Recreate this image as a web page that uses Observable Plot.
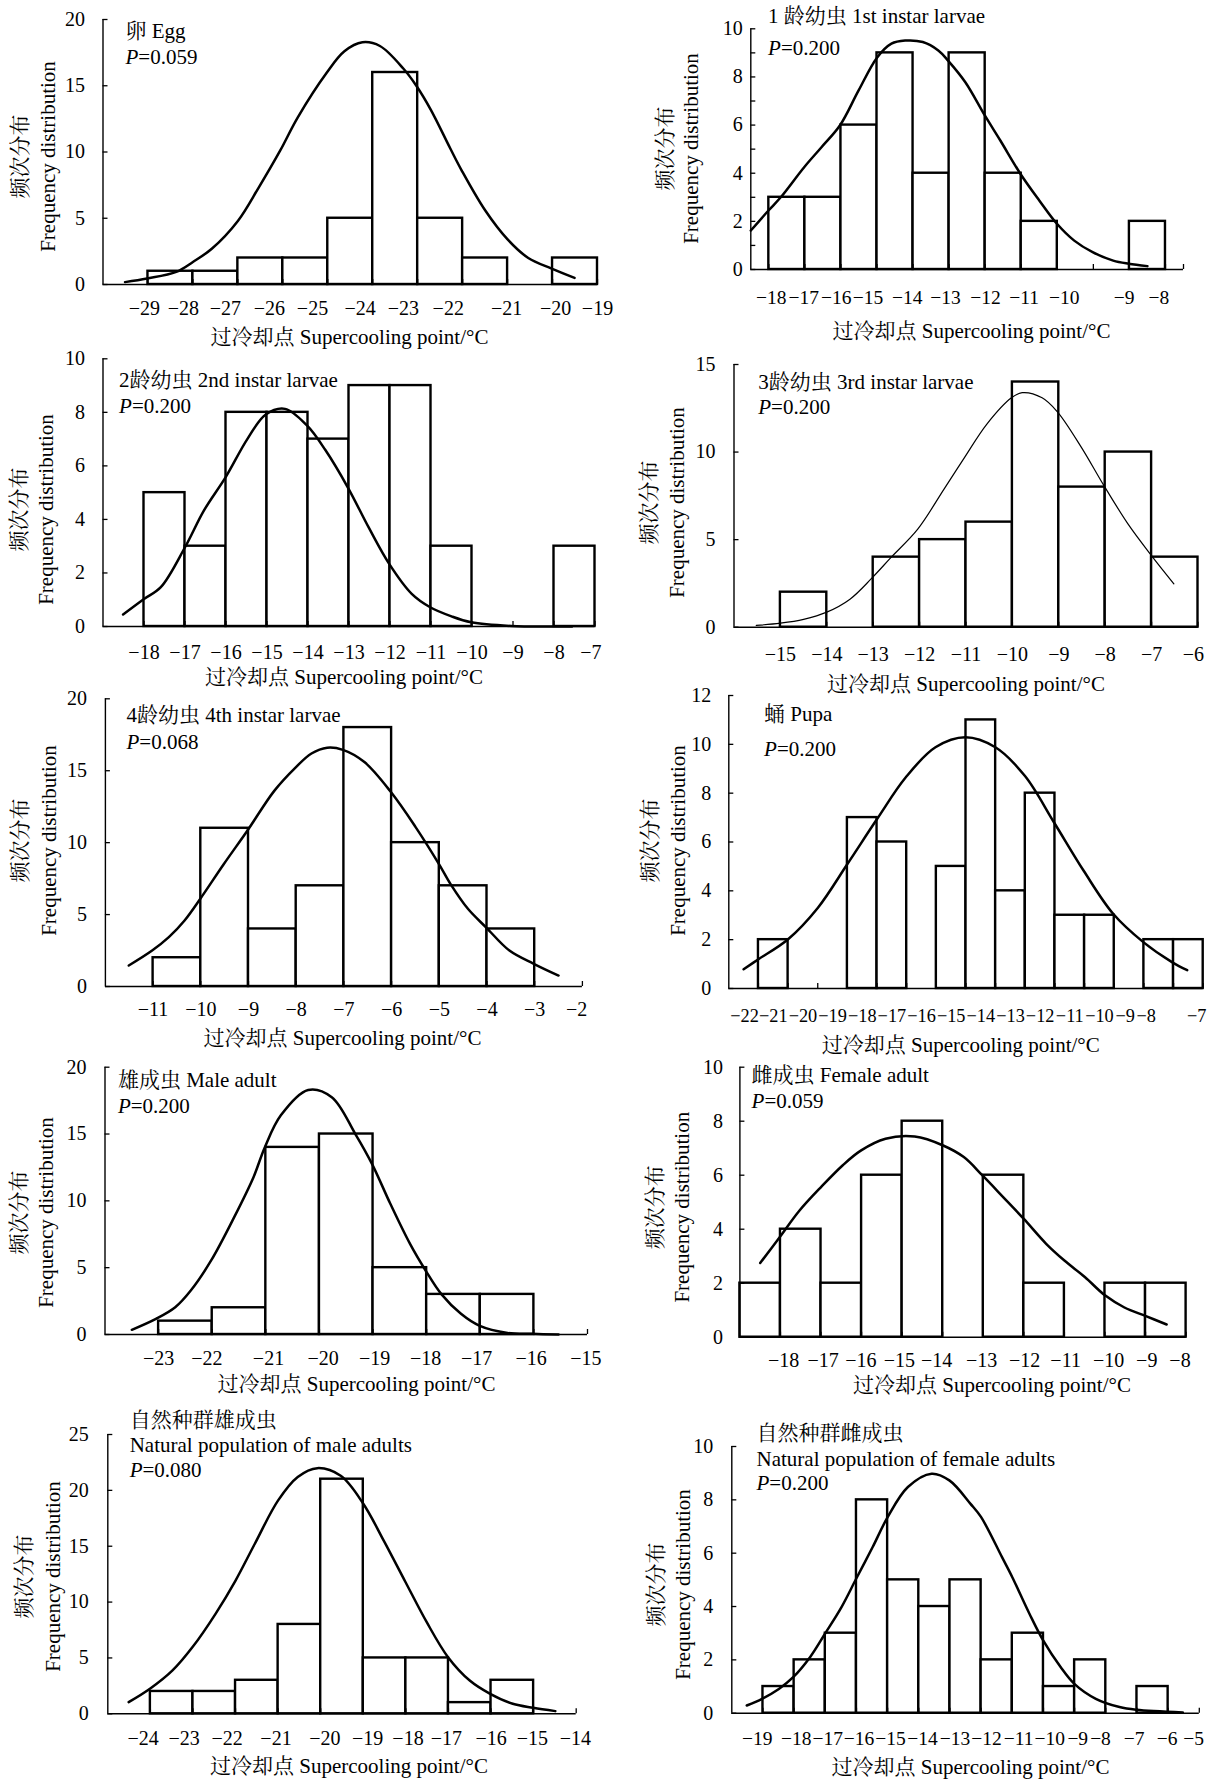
<!DOCTYPE html>
<html><head><meta charset="utf-8">
<script src="https://cdn.jsdelivr.net/npm/d3@7"></script>
<script src="https://cdn.jsdelivr.net/npm/@observablehq/plot@0.6"></script>
<style>
body{margin:0;background:#fff;color:#000;}
#root{position:relative;width:1222px;height:1779px;background:#fff;overflow:hidden;}
.cell{position:absolute;}
</style></head><body><div id="root"></div>
<script>
// ---------- DATA ----------
// 1 Egg
const eggBinStart = [-29,-28,-27,-26,-25,-24,-23,-22,-20];
const eggCount = [1,1,2,2,5,16,5,2,2];
const eggCurveX = [-29.51,-29.02,-28.37,-28.0,-27.58,-27.0,-26.54,-26.06,-25.67,-25.02,-24.63,-24.23,-23.84,-23.32,-23.03,-22.71,-22.28,-22.02,-21.5,-21.0,-20.54,-20.02,-19.51];
const eggCurveY = [0.18,0.45,0.95,1.7,2.7,4.8,7.3,10.1,12.6,16.0,17.6,18.28,18.0,16.3,15.0,13.2,10.3,8.6,5.6,3.4,2.0,1.2,0.5];
const eggXDomain = [-30,-19];
const eggYMax = 20;
const eggYTicks = [0,5,10,15,20];
const eggYMarks = [0,5,10,15,20];
const eggTickPos = [-29.08,-28.21,-27.28,-26.3,-25.34,-24.28,-23.32,-22.32,-21.02,-19.93,-19];
const eggTickLabel = ["−29","−28","−27","−26","−25","−24","−23","−22","−21","−20","−19"];
const eggEdges = [-29,-28,-27,-26,-25,-24,-23,-22,-21,-20,-19];
const eggTitle = ["卵 Egg"];
const eggP = "=0.059";

// 2 1st instar larvae
const l1BinStart = [-18,-17,-16,-15,-14,-13,-12,-11,-8];
const l1Count = [3,3,6,9,4,9,4,2,2];
const l1CurveX = [-18.5,-18.01,-17.67,-17.02,-16.54,-16.03,-15.51,-15.0,-14.6,-14.22,-13.73,-13.3,-13.03,-12.55,-12.01,-11.58,-11.02,-10.5,-10.01,-9.53,-9.02,-8.45,-8.02,-7.5];
const l1CurveY = [1.62,2.45,3.0,4.25,5.08,5.98,7.44,8.8,9.38,9.51,9.45,9.1,8.68,7.78,6.4,5.36,3.97,2.87,1.9,1.2,0.72,0.37,0.24,0.14];
const l1XDomain = [-18.5,-6.5];
const l1YMax = 10;
const l1YTicks = [0,2,4,6,8,10];
const l1YMarks = [0,1,2,3,4,5,6,7,8,9,10];
const l1TickPos = [-17.93,-17.03,-16.13,-15.25,-14.16,-13.1,-11.99,-10.92,-9.81,-8.15,-7.18];
const l1TickLabel = ["−18","−17","−16","−15","−14","−13","−12","−11","−10","−9","−8"];
const l1Edges = [-18,-17,-16,-15,-14,-13,-12,-11,-10,-9,-8,-7,-6.5];
const l1Title = ["1 龄幼虫 1st instar larvae"];
const l1P = "=0.200";

// 3 2nd instar larvae
const l2BinStart = [-18,-17,-16,-15,-14,-13,-12,-11,-8];
const l2Count = [5,3,8,8,7,9,9,3,3];
const l2CurveX = [-18.51,-18.0,-17.59,-17.0,-16.54,-16.0,-15.48,-15.03,-14.56,-14.02,-13.58,-13.03,-12.52,-12.02,-11.47,-11.02,-10.5,-10.02,-9.04,-8.0,-7.56];
const l2CurveY = [0.45,1.03,1.47,2.96,4.33,5.6,7.0,7.92,8.13,7.5,6.6,5.2,3.7,2.34,1.22,0.72,0.38,0.16,0.02,0,0];
const l2XDomain = [-19,-7];
const l2YMax = 10;
const l2YTicks = [0,2,4,6,8,10];
const l2YMarks = [0,2,4,6,8,10];
const l2TickPos = [-18,-17,-16,-15,-14,-13,-12,-11,-10,-9,-8,-7.1];
const l2TickLabel = ["−18","−17","−16","−15","−14","−13","−12","−11","−10","−9","−8","−7"];
const l2Edges = [-18,-17,-16,-15,-14,-13,-12,-11,-10,-9,-8,-7];
const l2Title = ["2龄幼虫 2nd instar larvae"];
const l2P = "=0.200";

// 4 3rd instar larvae
const l3BinStart = [-15,-13,-12,-11,-10,-9,-8,-7];
const l3Count = [2,4,5,6,14,8,10,4];
const l3CurveX = [-15.52,-15.0,-14.5,-14.0,-13.5,-13.03,-12.61,-12.04,-11.47,-11.03,-10.55,-10.02,-9.79,-9.36,-9.03,-8.52,-8.03,-7.51,-7.02,-6.52];
const l3CurveY = [0.1,0.23,0.45,0.86,1.6,2.8,4.0,5.6,7.9,9.7,11.6,13.1,13.39,13.1,12.3,10.3,8.1,5.9,4.15,2.48];
const l3XDomain = [-16,-6];
const l3YMax = 15;
const l3YTicks = [0,5,10,15];
const l3YMarks = [0,5,10,15];
const l3TickPos = [-15,-14,-13,-12,-11,-10,-9,-8,-7,-6.1];
const l3TickLabel = ["−15","−14","−13","−12","−11","−10","−9","−8","−7","−6"];
const l3Edges = [-15,-14,-13,-12,-11,-10,-9,-8,-7,-6];
const l3Title = ["3龄幼虫 3rd instar larvae"];
const l3P = "=0.200";

// 5 4th instar larvae
const l4BinStart = [-11,-10,-9,-8,-7,-6,-5,-4];
const l4Count = [2,11,4,7,18,10,7,4];
const l4CurveX = [-11.51,-11.02,-10.67,-10.34,-10.01,-9.52,-9.01,-8.46,-8.02,-7.68,-7.35,-7.02,-6.57,-6.01,-5.5,-5.01,-4.76,-4.4,-4.01,-3.53,-3.02,-2.5];
const l4CurveY = [1.46,2.5,3.43,4.59,6.1,8.5,10.9,13.6,15.2,16.2,16.6,16.45,15.6,13.5,11.1,8.53,7.1,5.4,4.08,2.5,1.58,0.76];
const l4XDomain = [-12,-2];
const l4YMax = 20;
const l4YTicks = [0,5,10,15,20];
const l4YMarks = [0,5,10,15,20];
const l4TickPos = [-11,-10,-9,-8,-7,-6,-5,-4,-3,-2.12];
const l4TickLabel = ["−11","−10","−9","−8","−7","−6","−5","−4","−3","−2"];
const l4Edges = [-11,-10,-9,-8,-7,-6,-5,-4,-3,-2];
const l4Title = ["4龄幼虫 4th instar larvae"];
const l4P = "=0.068";

// 6 Pupa (bins centred on the labels)
const puBinStart = [-21.5,-18.5,-17.5,-15.5,-14.5,-13.5,-12.5,-11.5,-10.5,-8.5,-7.5];
const puCount = [2,7,6,5,11,4,8,3,3,2,2];
const puCurveX = [-22.0,-21.5,-20.5,-19.5,-18.5,-17.5,-16.53,-15.53,-14.52,-13.51,-12.51,-11.53,-10.52,-9.53,-8.52,-7.54,-7.04];
const puCurveY = [0.79,1.2,2.02,3.3,5.1,6.94,8.65,9.88,10.29,9.88,8.7,6.8,4.8,3.05,1.9,1.07,0.75];
const puXDomain = [-22.5,-6.5];
const puYMax = 12;
const puYTicks = [0,2,4,6,8,10,12];
const puYMarks = [0,2,4,6,8,10,12];
const puTickPos = [-21.97,-21,-20,-19,-18,-17,-16,-15,-14,-13,-12,-11,-10,-9.13,-8.42,-6.72];
const puTickLabel = ["−22","−21","−20","−19","−18","−17","−16","−15","−14","−13","−12","−11","−10","−9","−8","−7"];
const puEdges = [-21.5,-20.5,-19.5,-18.5,-17.5,-16.5,-15.5,-14.5,-13.5,-12.5,-11.5,-10.5,-9.5,-8.5,-7.5,-6.5];
const puTitle = ["蛹 Pupa"];
const puP = "=0.200";

// 7 Male adult
const maBinStart = [-23,-22,-21,-20,-19,-18,-17];
const maCount = [1,2,14,15,5,3,3];
const maCurveX = [-23.5,-23.05,-22.69,-22.4,-22.02,-21.59,-21.23,-21.02,-20.72,-20.21,-19.77,-19.33,-19.02,-18.68,-18.31,-18.02,-17.73,-17.36,-17.02,-16.49,-16.03,-15.54];
const maCurveY = [0.35,1.17,2.04,3.29,5.54,8.78,11.77,14.0,16.4,18.3,17.76,15.0,12.77,9.8,6.78,4.79,3.04,1.55,0.67,0.12,0.05,0.0];
const maXDomain = [-24,-15];
const maYMax = 20;
const maYTicks = [0,5,10,15,20];
const maYMarks = [0,5,10,15,20];
const maTickPos = [-23,-22.1,-20.95,-19.93,-18.97,-18.02,-17.07,-16.05,-15.03];
const maTickLabel = ["−23","−22","−21","−20","−19","−18","−17","−16","−15"];
const maEdges = [-23,-22,-21,-20,-19,-18,-17,-16,-15];
const maTitle = ["雄成虫 Male adult"];
const maP = "=0.200";

// 8 Female adult
const faBinStart = [-19,-18,-17,-16,-15,-13,-12,-10,-9];
const faCount = [2,4,2,6,8,6,2,2,2];
const faCurveX = [-18.5,-18.02,-17.53,-17.0,-16.47,-16.02,-15.41,-14.69,-13.99,-13.48,-13.02,-12.51,-12.0,-11.45,-11.0,-10.49,-10.0,-9.52,-8.99,-8.48];
const faCurveY = [2.75,3.7,4.69,5.56,6.36,6.91,7.35,7.43,7.1,6.67,5.99,5.19,4.38,3.46,2.84,2.22,1.55,1.1,0.78,0.47];
const faXDomain = [-19,-8];
const faYMax = 10;
const faYTicks = [0,2,4,6,8,10];
const faYMarks = [0,2,4,6,8,10];
const faTickPos = [-17.92,-16.95,-16.02,-15.07,-14.15,-13.04,-11.98,-10.97,-9.91,-8.97,-8.15];
const faTickLabel = ["−18","−17","−16","−15","−14","−13","−12","−11","−10","−9","−8"];
const faEdges = [-18,-17,-16,-15,-14,-13,-12,-11,-10,-9,-8];
const faTitle = ["雌成虫 Female adult"];
const faP = "=0.059";

// 9 Natural population of male adults
const nmBinStart = [-24,-23,-22,-21,-20,-19,-18,-17,-16];
const nmCount = [2,2,3,8,21,5,5,1,3];
const nmCurveX = [-24.51,-24.01,-23.48,-23.01,-22.47,-22.0,-21.55,-21.0,-20.54,-20.08,-19.53,-19.0,-18.52,-18.01,-17.51,-17.01,-16.5,-16.02,-15.49,-15.01,-14.49];
const nmCurveY = [1.04,2.24,3.88,5.97,8.95,11.93,15.2,19.1,21.2,21.99,21.3,18.8,15.5,11.8,8.2,5.07,2.98,1.79,0.9,0.54,0.24];
const nmXDomain = [-25,-14];
const nmYMax = 25;
const nmYTicks = [0,5,10,15,20,25];
const nmYMarks = [0,5,10,15,20,25];
const nmTickPos = [-24.17,-23.21,-22.2,-21.05,-19.9,-18.9,-17.95,-17.05,-16.0,-15.03,-14.02];
const nmTickLabel = ["−24","−23","−22","−21","−20","−19","−18","−17","−16","−15","−14"];
const nmEdges = [-24,-23,-22,-21,-20,-19,-18,-17,-16,-15,-14];
const nmTitle = ["自然种群雄成虫","Natural population of male adults"];
const nmP = "=0.080";

// 10 Natural population of female adults
const nfBinStart = [-19,-18,-17,-16,-15,-14,-13,-12,-11,-10,-9,-7];
const nfCount = [1,2,3,8,5,4,5,2,3,1,2,1];
const nfCurveX = [-19.52,-19.03,-18.49,-18.03,-17.49,-17.01,-16.48,-16.01,-15.48,-15.0,-14.35,-13.59,-13.02,-12.34,-12.0,-11.33,-11.0,-10.45,-10.01,-9.45,-9.01,-8.32,-7.56,-7.02,-5.53];
const nfCurveY = [0.29,0.54,0.91,1.35,2.1,2.98,3.98,5.04,6.23,7.35,8.48,8.98,8.73,7.85,7.35,5.85,5.1,3.73,2.73,1.73,1.1,0.54,0.23,0.13,0.03];
const nfXDomain = [-20,-5];
const nfYMax = 10;
const nfYTicks = [0,2,4,6,8,10];
const nfYMarks = [0,2,4,6,8,10];
const nfTickPos = [-19.18,-17.93,-16.92,-15.92,-14.91,-13.88,-12.84,-11.83,-10.8,-9.8,-8.9,-8.17,-7.09,-6.03,-5.18];
const nfTickLabel = ["−19","−18","−17","−16","−15","−14","−13","−12","−11","−10","−9","−8","−7","−6","−5"];
const nfEdges = [-19,-18,-17,-16,-15,-14,-13,-12,-11,-10,-9,-8,-7,-6,-5];
const nfTitle = ["自然种群雌成虫","Natural population of female adults"];
const nfP = "=0.200";

const xTitle = "过冷却点 Supercooling point/°C";
const yTitleCN = "频次分布";
const yTitleEN = "Frequency distribution";

// ---------- PANEL TABLE (built from the arrays above) ----------
const panels = [
  {binStart:eggBinStart,count:eggCount,cx:eggCurveX,cy:eggCurveY,xDomain:eggXDomain,yMax:eggYMax,yTicks:eggYTicks,yMarks:eggYMarks,tickPos:eggTickPos,tickLabel:eggTickLabel,edges:eggEdges,title:eggTitle,p:eggP},
  {binStart:l1BinStart,count:l1Count,cx:l1CurveX,cy:l1CurveY,xDomain:l1XDomain,yMax:l1YMax,yTicks:l1YTicks,yMarks:l1YMarks,tickPos:l1TickPos,tickLabel:l1TickLabel,edges:l1Edges,title:l1Title,p:l1P},
  {binStart:l2BinStart,count:l2Count,cx:l2CurveX,cy:l2CurveY,xDomain:l2XDomain,yMax:l2YMax,yTicks:l2YTicks,yMarks:l2YMarks,tickPos:l2TickPos,tickLabel:l2TickLabel,edges:l2Edges,title:l2Title,p:l2P},
  {binStart:l3BinStart,count:l3Count,cx:l3CurveX,cy:l3CurveY,xDomain:l3XDomain,yMax:l3YMax,yTicks:l3YTicks,yMarks:l3YMarks,tickPos:l3TickPos,tickLabel:l3TickLabel,edges:l3Edges,title:l3Title,p:l3P},
  {binStart:l4BinStart,count:l4Count,cx:l4CurveX,cy:l4CurveY,xDomain:l4XDomain,yMax:l4YMax,yTicks:l4YTicks,yMarks:l4YMarks,tickPos:l4TickPos,tickLabel:l4TickLabel,edges:l4Edges,title:l4Title,p:l4P},
  {binStart:puBinStart,count:puCount,cx:puCurveX,cy:puCurveY,xDomain:puXDomain,yMax:puYMax,yTicks:puYTicks,yMarks:puYMarks,tickPos:puTickPos,tickLabel:puTickLabel,edges:puEdges,title:puTitle,p:puP},
  {binStart:maBinStart,count:maCount,cx:maCurveX,cy:maCurveY,xDomain:maXDomain,yMax:maYMax,yTicks:maYTicks,yMarks:maYMarks,tickPos:maTickPos,tickLabel:maTickLabel,edges:maEdges,title:maTitle,p:maP},
  {binStart:faBinStart,count:faCount,cx:faCurveX,cy:faCurveY,xDomain:faXDomain,yMax:faYMax,yTicks:faYTicks,yMarks:faYMarks,tickPos:faTickPos,tickLabel:faTickLabel,edges:faEdges,title:faTitle,p:faP},
  {binStart:nmBinStart,count:nmCount,cx:nmCurveX,cy:nmCurveY,xDomain:nmXDomain,yMax:nmYMax,yTicks:nmYTicks,yMarks:nmYMarks,tickPos:nmTickPos,tickLabel:nmTickLabel,edges:nmEdges,title:nmTitle,p:nmP},
  {binStart:nfBinStart,count:nfCount,cx:nfCurveX,cy:nfCurveY,xDomain:nfXDomain,yMax:nfYMax,yTicks:nfYTicks,yMarks:nfYMarks,tickPos:nfTickPos,tickLabel:nfTickLabel,edges:nfEdges,title:nfTitle,p:nfP}
];

// ---------- LAYOUT (pixels, per panel) ----------
const layouts = [
 {left:0,  top:0,    h:350, x0:102.5, x1:597,   yTop:19,   yBot:284,   yPad:18,   xLab:314,   xtc:349,   xtb:343,   yt1:20, yt2:48,   yvc:156,   tx:125,   tb:[37],      pb:63,   curveW:2.5, tickFont:20},
 {left:611,top:0,    h:350, x0:139.3, x1:572,   yTop:28.3, yBot:269,   yPad:8,    xLab:303,   xtc:360,   xtb:337,   yt1:54, yt2:80,   yvc:148,   tx:156.6, tb:[22.5],    pb:54,   curveW:2.5, tickFont:19.5},
 {left:0,  top:350,  h:340, x0:102.5, x1:594.5, yTop:8.3,  yBot:276,   yPad:18,   xLab:308,   xtc:343.5, xtb:333.3, yt1:19, yt2:46,   yvc:159,   tx:118.6, tb:[36.5],    pb:62.7, curveW:2.5, tickFont:20},
 {left:611,top:350,  h:340, x0:122.5, x1:586.5, yTop:14,   yBot:276.7, yPad:18.5, xLab:310,   xtc:354.5, xtb:340.5, yt1:38, yt2:65.5, yvc:152,   tx:146.8, tb:[38],      pb:63.3, curveW:1.2, tickFont:20},
 {left:0,  top:690,  h:360, x0:104.9, x1:581.9, yTop:8.3,  yBot:296,   yPad:18.5, xLab:325,   xtc:342,   xtb:354.5, yt1:20, yt2:48.5, yvc:150,   tx:126,   tb:[31.5],    pb:58.3, curveW:2.5, tickFont:20},
 {left:611,top:690,  h:360, x0:117.3, x1:591.7, yTop:5,    yBot:298,   yPad:17.5, xLab:331,   xtc:349.3, xtb:361.5, yt1:39, yt2:66.5, yvc:150,   tx:152.6, tb:[30],      pb:65,   curveW:2.5, tickFont:18.3},
 {left:0,  top:1050, h:350, x0:104.5, x1:587,   yTop:16.7, yBot:284,   yPad:18.4, xLab:314,   xtc:356,   xtb:340,   yt1:18.5, yt2:45.5, yvc:162, tx:117.4, tb:[36.5],    pb:62.7, curveW:2.5, tickFont:20},
 {left:611,top:1050, h:350, x0:128.4, x1:574.6, yTop:16.7, yBot:286.7, yPad:17,   xLab:316,   xtc:380.5, xtb:341,   yt1:44, yt2:70.5, yvc:156.7, tx:140.1, tb:[31.2],    pb:57.3, curveW:2.5, tickFont:20},
 {left:0,  top:1400, h:379, x0:107.3, x1:575.7, yTop:34,   yBot:313.3, yPad:19,   xLab:344.5, xtc:348.5, xtb:372.3, yt1:24, yt2:52.5, yvc:176,   tx:129.2, tb:[26,51.7], pb:76.5, curveW:2.5, tickFont:20},
 {left:611,top:1400, h:379, x0:120.3, x1:587.8, yTop:46,   yBot:312.7, yPad:18.5, xLab:344.5, xtc:359,   xtb:373,   yt1:45, yt2:72,   yvc:184,   tx:145,   tb:[39.5,65.2], pb:89, curveW:2.5, tickFont:19.5}
];

const FONT = '"Liberation Serif","Times New Roman","Noto Serif CJK SC","Noto Sans CJK SC",serif';
const W = 611;

function makePanel(D, L) {
  const H = L.h;
  const fw = L.x1 - L.x0, fh = L.yBot - L.yTop;
  const bins = D.binStart.map((s, i) => ({x1: s, x2: s + 1, y1: 0, y2: D.count[i]}));
  const curve = D.cx.map((x, i) => ({x, y: D.cy[i]}));
  const labelMap = new Map(D.tickPos.map((p, i) => [p, D.tickLabel[i]]));
  const txt = (s, dx, dy, extra) => Plot.text([s], Object.assign({
    text: d => d, frameAnchor: "top-left", dx, dy, textAnchor: "start",
    lineAnchor: "bottom", fontSize: 21, fontFamily: FONT, fill: "black"
  }, extra || {}));
  const marks = [
    Plot.rect(bins, {x1: "x1", x2: "x2", y1: "y1", y2: "y2", fill: "white", stroke: "black", strokeWidth: 2.4}),
    Plot.ruleY([0], {stroke: "black", strokeWidth: 1.4}),
    Plot.ruleX([D.xDomain[0]], {stroke: "black", strokeWidth: 1.4}),
    Plot.tickX(D.edges, {x: d => d, insetTop: fh - 5, stroke: "black", strokeWidth: 1.3}),
    Plot.tickY(D.yMarks, {y: d => d, insetRight: fw - 5, stroke: "black", strokeWidth: 1.3}),
    Plot.line(curve, {x: "x", y: "y", curve: "catmull-rom", stroke: "black", strokeWidth: L.curveW}),
    Plot.axisX({ticks: D.tickPos, tickFormat: d => labelMap.get(d), tickSize: 0,
      tickPadding: L.xLab - L.yBot - 0.71 * L.tickFont, fontSize: L.tickFont, fontFamily: FONT, label: null}),
    Plot.axisY({ticks: D.yTicks, tickSize: 0, tickPadding: L.yPad, fontSize: 20, fontFamily: FONT, label: null}),
  ];
  D.title.forEach((t, i) => marks.push(txt(t, L.tx - L.x0, L.tb[i] - L.yTop)));
  marks.push(txt("P", L.tx - L.x0, L.pb - L.yTop, {fontStyle: "italic"}));
  marks.push(txt(D.p, L.tx - L.x0 + 12.8, L.pb - L.yTop));
  marks.push(txt(xTitle, L.xtc - L.x0, L.xtb - L.yTop, {textAnchor: "middle"}));
  marks.push(txt(yTitleCN, L.yt1 - L.x0, L.yvc - L.yTop, {textAnchor: "middle", lineAnchor: "middle", rotate: -90}));
  marks.push(txt(yTitleEN, L.yt2 - L.x0, L.yvc - L.yTop, {textAnchor: "middle", lineAnchor: "middle", rotate: -90}));

  return Plot.plot({
    width: W, height: H,
    marginLeft: L.x0, marginRight: W - L.x1, marginTop: L.yTop, marginBottom: H - L.yBot,
    x: {domain: D.xDomain},
    y: {domain: [0, D.yMax]},
    style: {background: "none", overflow: "visible", fontFamily: FONT, fontSize: "20px", color: "black"},
    marks
  });
}

const root = document.getElementById("root");
panels.forEach((D, i) => {
  const L = layouts[i];
  const div = document.createElement("div");
  div.className = "cell";
  div.style.left = L.left + "px";
  div.style.top = L.top + "px";
  div.appendChild(makePanel(D, L));
  root.appendChild(div);
});
</script>
</body></html>
